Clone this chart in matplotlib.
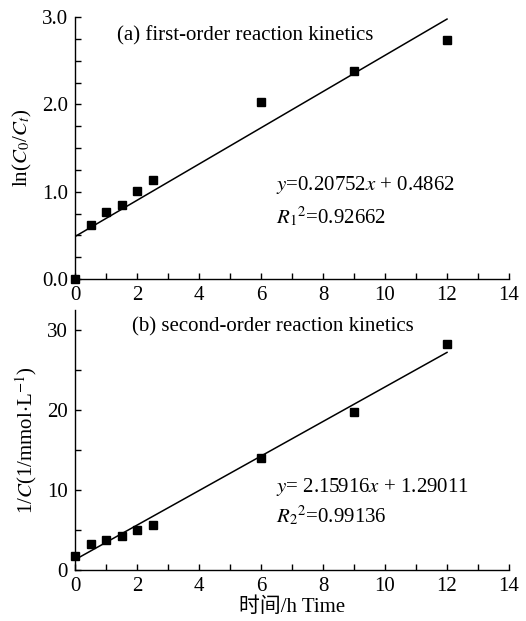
#!/usr/bin/env python3
import numpy as np
import matplotlib
matplotlib.use('Agg')
import matplotlib.pyplot as plt
from matplotlib.ticker import MultipleLocator

# data
time_h = [0, 0.5, 1, 1.5, 2, 2.5, 6, 9, 12]
ln_c0_ct = [0.0, 0.62, 0.77, 0.85, 1.01, 1.13, 2.03, 2.38, 2.74]
inv_c = [1.75, 3.3, 3.8, 4.3, 5.0, 5.6, 14.0, 19.8, 28.3]

fit1 = (0.20752, 0.4862)
fit2 = (2.15916, 1.29011)
fit_x = [0, 12]

plt.rcParams['font.family'] = ['Liberation Serif', 'Noto Sans CJK SC']
plt.rcParams['mathtext.fontset'] = 'stix'
fs = 15

fig = plt.figure(figsize=(5.26, 6.21), dpi=100)
ax1 = fig.add_axes([0.1426, 0.5507, 0.8251, 0.4219])
ax2 = fig.add_axes([0.1426, 0.0821, 0.8251, 0.4187])

def style(ax):
    for s in ['top', 'right']:
        ax.spines[s].set_visible(False)
    for s in ['left', 'bottom']:
        ax.spines[s].set_linewidth(1.0)
    ax.tick_params(which='both', direction='in', length=4, width=1.0, labelsize=fs, pad=5)
    ax.set_xlim(0, 14)
    ax.xaxis.set_major_locator(MultipleLocator(2))
    ax.xaxis.set_minor_locator(MultipleLocator(1))

# (a) first order
style(ax1)
ax1.plot(time_h, ln_c0_ct, 's', color='black', markersize=5.5, clip_on=False, zorder=5)
fx = np.array(fit_x)
ax1.plot(fx, fit1[0] * fx + fit1[1], color='black', lw=1.1)
ax1.set_ylim(0, 3.0)
ax1.set_yticks([0, 1, 2, 3])
ax1.set_yticklabels(['0.0', '1.0', '2.0', '3.0'])
ax1.yaxis.set_minor_locator(MultipleLocator(0.25))
ax1.set_ylabel(r'ln($C_0$/$C_t$)', fontsize=fs, labelpad=6)
ax1.text(0.097, 0.927, '(a) first-order reaction kinetics', transform=ax1.transAxes,
         fontsize=fs, va='center')
ax1.text(0.463, 0.359, r'$y$=0.20752$x$ + 0.4862', transform=ax1.transAxes,
         fontsize=fs, va='center')
ax1.text(0.463, 0.237, r'$R_1$$^2$=0.92662', transform=ax1.transAxes,
         fontsize=fs, va='center')

# (b) second order
style(ax2)
ax2.plot(time_h, inv_c, 's', color='black', markersize=5.5, clip_on=False, zorder=5)
ax2.plot(fx, fit2[0] * fx + fit2[1], color='black', lw=1.1)
ax2.set_ylim(0, 32.5)
ax2.set_yticks([0, 10, 20, 30])
ax2.yaxis.set_minor_locator(MultipleLocator(5))
ax2.set_ylabel(r'1/$C$(1/mmol$\cdot$L$^{-1}$)', fontsize=fs, labelpad=6)
ax2.set_xlabel('时间/h Time', fontsize=fs, labelpad=1)
ax2.text(0.131, 0.935, '(b) second-order reaction kinetics', transform=ax2.transAxes,
         fontsize=fs, va='center')
ax2.text(0.463, 0.319, r'$y$= 2.15916$x$ + 1.29011', transform=ax2.transAxes,
         fontsize=fs, va='center')
ax2.text(0.463, 0.208, r'$R_2$$^2$=0.99136', transform=ax2.transAxes,
         fontsize=fs, va='center')

fig.savefig('out.png', dpi=100)
